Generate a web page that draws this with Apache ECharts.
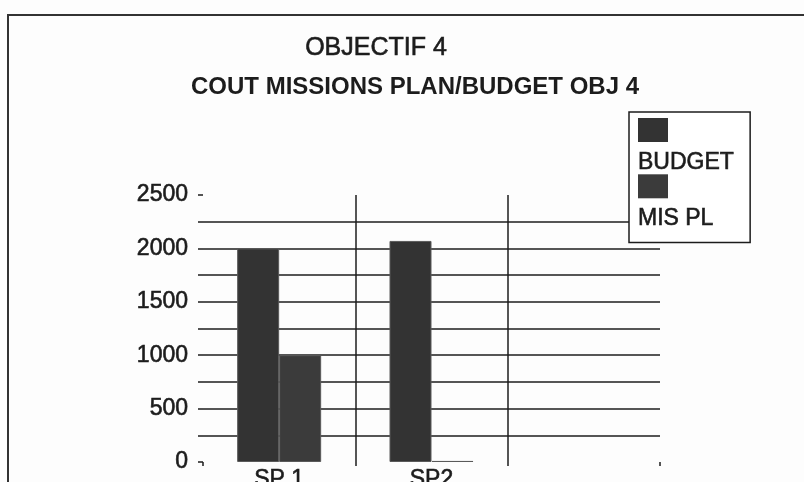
<!DOCTYPE html>
<html>
<head>
<meta charset="utf-8">
<script src="https://cdn.jsdelivr.net/npm/echarts@6/dist/echarts.min.js"></script>
<style>
  html, body { margin: 0; padding: 0; background: #fdfdfd; }
  #chart { width: 804px; height: 482px; }
</style>
</head>
<body>
<div id="chart"></div>
<script>
const categories = ['SP 1', 'SP2', ''];
const seriesNames = ['BUDGET', 'MIS PL'];
const budget = [2000, 2070, null];
const misPl = [1000, 10, null];
const yTicks = [0, 500, 1000, 1500, 2000, 2500];

const colors = ['#333333', '#3b3b3b'];
const ink = '#1c1c1c';
const font = '"Liberation Sans", Arial, sans-serif';
const thick = { textBorderColor: ink, textBorderWidth: 0.6 };

const chart = echarts.init(document.getElementById('chart'));
chart.setOption({
  backgroundColor: '#fdfdfd',
  animation: false,
  title: [
    {
      text: 'OBJECTIF 4',
      left: 371, top: 31, textAlign: 'center',
      textStyle: Object.assign({ fontFamily: font, fontSize: 25, fontWeight: 'normal', color: ink }, thick)
    },
    {
      text: 'COUT MISSIONS PLAN/BUDGET OBJ 4',
      left: 410, top: 70, textAlign: 'center',
      textStyle: { fontFamily: font, fontSize: 24, fontWeight: 'bold', color: ink }
    }
  ],
  graphic: [
    { type: 'rect', silent: true, shape: { x: 8, y: 15, width: 900, height: 600 },
      style: { fill: 'none', stroke: '#333', lineWidth: 2 } }
  ],
  legend: {
    orient: 'vertical',
    left: 629, top: 112,
    data: seriesNames,
    icon: 'none',
    itemWidth: 0, itemHeight: 24, itemGap: 0,
    padding: [6, 16, 12, 4],
    backgroundColor: '#fff',
    borderColor: ink, borderWidth: 1.5,
    selectedMode: false,
    formatter: function (name) {
      const i = seriesNames.indexOf(name);
      return '{sw' + i + '|}\n{t|' + name + '}';
    },
    textStyle: {
      fontFamily: font, fontSize: 23, color: ink,
      rich: {
        sw0: { backgroundColor: colors[0], width: 30, height: 24, lineHeight: 24 },
        sw1: { backgroundColor: colors[1], width: 30, height: 24, lineHeight: 24 },
        t: Object.assign({ fontSize: 23, lineHeight: 38, color: ink, fontFamily: font, padding: [3, 0, 0, 0] }, thick)
      }
    }
  },
  grid: { left: 203, right: 144, top: 195, bottom: 20, outerBoundsMode: 'none', containLabel: false },
  xAxis: {
    type: 'category',
    data: categories,
    axisLine: { show: false },
    axisTick: { show: true, length: 4, lineStyle: { color: ink, width: 1.5 } },
    axisLabel: Object.assign({ margin: 6, fontSize: 23, color: ink, fontFamily: font }, thick),
    splitLine: { show: true, showMinLine: false, showMaxLine: false, lineStyle: { color: ink, width: 1.5 } }
  },
  yAxis: {
    type: 'value',
    min: 0, max: 2500, interval: 250,
    axisLine: { show: false },
    axisTick: { show: true, length: 5, lineStyle: { color: ink, width: 1.5 } },
    axisLabel: Object.assign({
      margin: 15, fontSize: 23, color: ink, fontFamily: font,
      formatter: function (v) { return yTicks.indexOf(v) >= 0 ? String(v) : ''; }
    }, thick),
    splitLine: { show: true, showMinLine: false, showMaxLine: false, lineStyle: { color: ink, width: 1.5 } }
  },
  series: [
    { name: seriesNames[0], type: 'bar', data: budget, barWidth: 42, barGap: '0%',
      itemStyle: { color: colors[0], borderColor: '#5a5a5a', borderWidth: 1 } },
    { name: seriesNames[1], type: 'bar', data: misPl, barWidth: 42, barGap: '0%',
      itemStyle: { color: colors[1], borderColor: '#5a5a5a', borderWidth: 1 } }
  ]
});
</script>
</body>
</html>
